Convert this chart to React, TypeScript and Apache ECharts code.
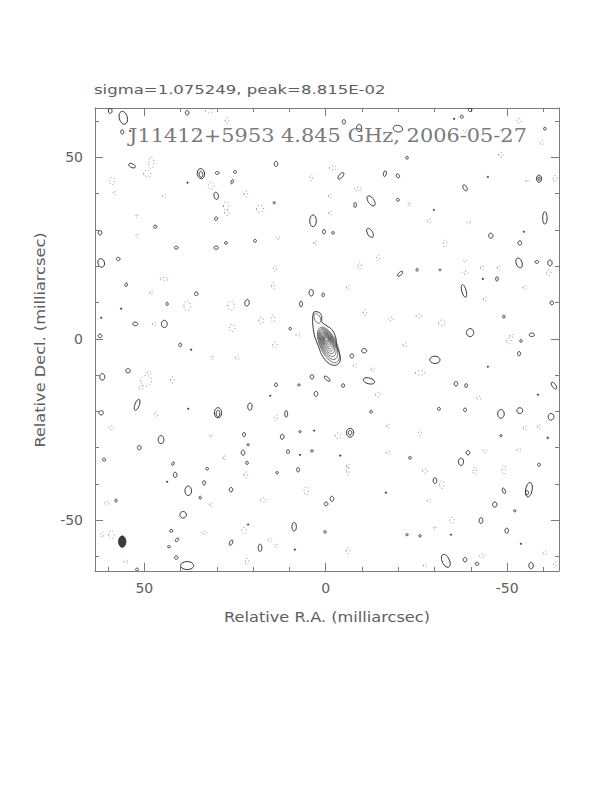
import React, { useEffect, useRef } from 'react';
import * as echarts from 'echarts';

// ---------- axes ----------
const X_MIN = -64.3;
const X_MAX = 63.6;
const Y_MIN = -64.0;
const Y_MAX = 63.6;
const majorTicks = [-50, 0, 50];
const minorTicks = [-60, -50, -40, -30, -20, -10, 0, 10, 20, 30, 40, 50, 60];
const tickLabels = [-50, 0, 50];

// ---------- texts ----------
const statsText = 'sigma=1.075249, peak=8.815E-02';
const titleText = 'J11412+5953 4.845 GHz, 2006-05-27';
const xName = 'Relative R.A. (milliarcsec)';
const yName = 'Relative Decl. (milliarcsec)';

// ---------- positive (solid) noise contours: [RA, Dec, rx, ry, angle] in mas ----------
const posContours: number[][] = [
  [59.4, 62.8, 0.5, 0.7, 0], [55.8, 60.9, 1.1, 1.8, -15], [56.1, 57.0, 0.4, 0.6, -10],
  [38.2, 62.3, 0.5, 0.6, 0], [53.4, 47.7, 1.0, 0.5, 25], [34.4, 45.5, 1.0, 1.4, -10],
  [34.4, 45.3, 0.5, 0.8, -10], [29.9, 45.7, 0.5, 0.4, 0], [25.0, 46.0, 0.4, 0.4, 0],
  [25.8, 43.3, 0.3, 0.6, 20], [30.2, 39.4, 0.6, 1.0, -10], [30.2, 33.1, 0.45, 0.45, 0],
  [47.0, 30.9, 0.45, 0.4, 0], [62.2, 29.2, 0.5, 0.6, 0], [41.2, 25.1, 0.5, 0.4, 0],
  [30.2, 25.1, 0.6, 0.45, 0], [27.5, 26.4, 0.4, 0.35, 0], [61.9, 20.9, 0.9, 1.2, -15],
  [57.2, 22.0, 0.5, 0.45, 0], [55.0, 14.9, 0.35, 0.5, 15], [35.7, 12.4, 0.5, 0.5, 0],
  [43.7, 9.6, 0.3, 0.45, 0], [21.7, 9.9, 0.6, 0.9, 10], [52.5, 4.1, 0.7, 0.5, 0],
  [44.5, 4.1, 0.8, 1.0, 0], [62.2, 0.8, 0.5, 0.5, 0],
  [-5.0, 59.8, 0.45, 0.6, 0], [-9.2, 58.1, 0.7, 1.0, 0], [-19.9, 57.9, 1.3, 0.9, 10],
  [13.7, 48.2, 0.5, 0.7, 0], [-4.2, 44.9, 0.5, 1.1, 40], [-16.3, 45.5, 0.4, 0.8, 10],
  [-19.9, 44.9, 0.4, 0.6, -30], [-12.5, 38.0, 0.8, 1.6, -35], [-8.1, 36.9, 0.35, 0.7, 0],
  [-19.9, 38.3, 0.4, 0.4, 0], [14.2, 37.5, 0.3, 0.3, 0], [3.5, 32.5, 0.9, 1.6, 0],
  [0.5, 29.5, 0.4, 0.6, 0], [-2.0, 29.2, 0.35, 0.35, 0], [-12.2, 29.2, 0.7, 1.4, -30],
  [19.5, 27.0, 0.4, 0.4, 0], [-20.5, 17.9, 0.4, 0.9, 45], [4.0, 12.7, 0.6, 0.9, 0],
  [0.7, 12.1, 0.35, 0.5, 0], [6.8, 9.6, 0.4, 0.8, 0], [9.8, 2.8, 0.35, 0.35, 0],
  [-39.8, 63.1, 0.5, 0.5, 0], [-37.5, 61.2, 0.4, 0.45, 0], [-60.4, 57.9, 0.35, 0.4, 0],
  [-22.4, 49.9, 0.35, 0.4, 0], [-38.4, 41.6, 0.5, 0.9, -30], [-58.8, 44.1, 0.7, 1.0, 0],
  [-58.8, 44.1, 0.3, 0.5, 0], [-60.4, 33.3, 0.6, 1.7, 0], [-45.5, 28.4, 0.6, 0.7, 0],
  [-53.5, 26.4, 0.5, 0.6, 0], [-53.3, 20.9, 0.8, 1.4, -20], [-58.2, 21.2, 0.5, 0.4, 0],
  [-61.8, 20.9, 0.6, 0.8, 0], [-25.2, 19.0, 0.3, 0.4, 0], [-31.5, 19.0, 0.25, 0.25, 0],
  [-47.2, 16.5, 0.35, 0.6, 0], [-38.1, 13.2, 0.6, 1.8, -15], [-62.3, 9.9, 0.5, 0.5, 0],
  [-49.1, 6.1, 0.3, 0.45, 0], [-39.8, 1.7, 1.0, 1.1, 0], [-56.8, 1.1, 0.7, 0.5, 0],
  [40.1, -1.7, 0.4, 0.5, 0], [54.5, -8.8, 0.6, 0.6, 0], [61.6, -10.5, 0.7, 0.9, 0],
  [52.0, -18.2, 0.6, 1.6, 20], [61.9, -20.4, 0.6, 0.6, 0], [29.7, -20.4, 1.0, 1.4, 0],
  [29.7, -20.6, 0.5, 0.9, 0], [20.9, -18.7, 0.6, 1.0, 0], [45.4, -27.8, 0.8, 1.1, 0],
  [51.4, -30.0, 0.5, 0.6, 0], [22.5, -26.4, 0.4, 0.6, 0], [21.4, -29.2, 0.3, 0.3, 0],
  [22.8, -31.4, 0.5, 0.7, 0], [61.1, -33.3, 0.45, 0.4, 0], [42.1, -34.4, 0.3, 0.5, 30],
  [32.7, -35.8, 0.4, 0.35, 0], [21.7, -34.2, 0.35, 0.45, 0], [41.5, -37.5, 0.5, 0.7, 0],
  [33.5, -39.7, 0.4, 0.6, 0], [37.9, -41.9, 0.9, 1.3, 0], [34.6, -43.8, 0.3, 0.4, 0],
  [26.1, -41.6, 0.5, 0.6, 0], [57.8, -44.6, 0.3, 0.4, 0], [39.3, -48.5, 0.9, 0.9, 0],
  [42.6, -52.9, 0.4, 0.4, 0], [41.0, -55.4, 0.35, 0.6, 40], [43.2, -57.3, 0.4, 0.3, 0],
  [26.1, -56.2, 0.4, 0.8, 25], [41.2, -60.3, 0.5, 0.45, 0], [38.2, -62.5, 1.8, 1.1, 0],
  [52.0, -63.6, 0.4, 0.4, 0],
  [-7.2, -4.7, 0.5, 0.6, 0], [-10.6, -3.3, 0.7, 0.6, 0], [-11.9, -11.6, 1.6, 0.8, 15],
  [3.8, -10.5, 0.5, 0.6, 0], [-0.4, -11.0, 0.4, 1.0, -50], [-4.8, -12.9, 0.4, 0.5, 0],
  [13.7, -12.7, 0.4, 0.5, 0], [7.4, -12.7, 0.3, 0.3, 0], [2.7, -15.2, 0.5, 0.7, 0],
  [10.9, -20.7, 0.4, 0.9, 0], [-12.5, -20.1, 0.35, 0.4, 0], [-6.7, -25.9, 1.0, 1.2, 0],
  [-6.7, -25.9, 0.5, 0.6, 0], [7.1, -25.6, 0.3, 0.3, 0], [12.0, -27.0, 0.5, 0.7, 0],
  [10.4, -31.1, 0.4, 0.5, 0], [3.8, -30.9, 0.35, 0.3, 0], [7.6, -36.1, 0.4, 0.6, 0],
  [13.4, -36.9, 0.35, 0.3, 0], [-1.7, -44.1, 0.5, 0.7, 0], [-0.1, -45.5, 0.5, 0.5, 0],
  [8.7, -51.8, 0.6, 1.2, 0], [0.2, -53.2, 0.35, 0.35, 0], [18.1, -57.6, 0.5, 1.0, 0],
  [-30.1, -5.8, 1.4, 1.0, 0], [-53.3, -4.1, 0.4, 0.6, 0], [-53.8, -0.6, 0.3, 0.4, 0],
  [-62.9, -12.9, 0.5, 1.1, -35], [-35.9, -12.4, 0.5, 0.6, 0], [-38.7, -12.9, 0.35, 0.55, 0],
  [-31.2, -19.3, 0.4, 0.4, 0], [-38.4, -19.6, 0.4, 0.5, 0], [-48.3, -20.7, 0.9, 1.2, 0],
  [-53.5, -19.8, 0.8, 0.8, 0], [-62.1, -21.5, 0.8, 0.9, 0], [-48.3, -26.7, 0.3, 0.3, 0],
  [-61.2, -27.3, 0.25, 0.25, 0], [-23.2, -32.8, 0.35, 0.4, 0], [-39.2, -31.4, 0.5, 0.6, 0],
  [-37.3, -33.9, 0.7, 1.0, 0], [-58.8, -34.7, 0.4, 0.4, 0], [-30.1, -39.1, 0.5, 0.8, 0],
  [-49.1, -41.9, 0.4, 0.8, -20], [-56.0, -41.6, 0.9, 2.0, 10], [-55.5, -42.4, 0.4, 0.6, 0],
  [-46.6, -45.7, 0.6, 0.7, 0], [-52.1, -47.4, 0.3, 0.3, 0], [-42.8, -50.1, 0.5, 0.8, 0],
  [-49.9, -52.9, 0.5, 0.7, 0], [-22.4, -54.0, 0.3, 0.3, 0], [-26.0, -54.3, 0.35, 0.3, 0],
  [-33.1, -61.2, 1.0, 1.9, -25], [-38.4, -60.9, 0.5, 0.6, 0], [-41.7, -62.0, 0.5, 0.4, 0],
  [-56.6, -62.5, 0.6, 0.9, 0],
];

// ---------- tiny single-pixel positive islands: [RA, Dec] ----------
const dotContours: number[][] = [
  [53.9, 57.3], [38.1, 43.0], [61.9, 5.8], [-35.4, 60.6], [-29.8, 35.5], [-44.7, 44.6],
  [-54.6, 29.5], [-43.3, 16.5], [37.1, -3.0], [43.7, -39.4], [21.4, -51.2], [37.9, -19.3],
  [7.1, -32.0], [3.2, -25.3], [-4.0, -32.2], [-16.6, -42.4], [8.5, -58.1], [15.3, -15.7],
  [-44.7, -7.7], [-58.5, -15.4], [-53.8, -56.5], [-34.5, -54.0], [56.4, 8.3],
];

// ---------- negative (dotted) contours: [RA, Dec, rx, ry] ----------
const negContours: number[][] = [
  [32.2, 62.8, 1.0, 0.6], [27.2, 60.1, 0.5, 0.8], [34.9, 57.3, 0.5, 0.5], [48.1, 48.5, 0.7, 1.6],
  [49.2, 45.5, 1.0, 1.0], [58.9, 43.5, 0.8, 1.0], [31.6, 42.2, 0.8, 1.0], [27.5, 36.6, 0.7, 1.2],
  [27.2, 34.7, 0.6, 0.7], [52.0, 33.9, 0.3, 0.5], [52.0, 28.4, 0.3, 0.6], [22.0, 39.9, 0.5, 0.8],
  [44.5, 39.4, 0.5, 0.5], [44.5, 16.5, 1.2, 0.4], [48.1, 12.7, 0.4, 0.6], [38.2, 9.1, 0.9, 1.4],
  [26.1, 9.1, 0.9, 1.3], [25.8, 3.0, 0.8, 1.0], [47.3, 4.1, 0.5, 0.5], [58.3, 40.2, 0.3, 0.6],
  [-2.0, 47.1, 1.0, 0.6], [4.0, 44.4, 0.4, 0.8], [-8.9, 41.3, 1.0, 0.5], [18.1, 35.8, 1.0, 1.0],
  [-1.2, 39.4, 0.4, 0.6], [-1.2, 34.7, 0.4, 0.6], [13.1, 27.8, 0.5, 0.4], [2.9, 26.4, 0.4, 0.6],
  [14.0, 19.3, 0.4, 0.8], [14.5, 14.6, 0.4, 0.9], [-9.4, 20.1, 0.5, 0.9], [-14.4, 22.3, 0.4, 0.8],
  [-6.1, 14.1, 0.4, 0.6], [-10.8, 7.2, 0.5, 0.8], [-18.0, 5.5, 0.7, 0.5], [17.8, 5.0, 0.7, 0.9],
  [14.5, 5.5, 0.5, 1.0], [7.6, 1.1, 0.6, 0.4],
  [-53.3, 60.1, 0.6, 0.6], [-38.4, 57.3, 0.5, 0.4], [-48.6, 57.3, 0.4, 0.5], [-48.3, 50.7, 0.6, 0.7],
  [-59.6, 54.0, 0.5, 0.6], [-63.2, 44.1, 0.5, 0.9], [-55.5, 43.5, 0.3, 0.4], [-23.0, 37.2, 0.3, 0.5],
  [-28.5, 32.5, 0.5, 0.6], [-39.5, 32.0, 0.6, 0.3], [-32.9, 26.2, 0.5, 1.0], [-38.4, 21.5, 0.4, 0.4],
  [-38.4, 18.2, 0.8, 0.4], [-43.1, 19.6, 0.4, 0.6], [-47.7, 19.6, 0.4, 0.6], [-61.5, 18.2, 0.6, 0.8],
  [-54.9, 14.1, 0.5, 0.5], [-43.9, 11.0, 0.4, 0.6], [-25.7, 6.3, 0.8, 0.5], [-32.0, 4.4, 0.9, 0.8],
  [-51.3, 0.8, 0.6, 0.4],
  [49.5, -11.6, 1.5, 1.5], [48.7, -9.4, 0.6, 0.5], [50.9, -13.5, 0.6, 0.5], [42.3, -11.3, 0.5, 0.8],
  [24.4, -5.2, 0.5, 0.6], [31.3, -5.2, 0.3, 0.6], [46.8, -20.9, 0.4, 0.8], [59.1, -24.5, 0.7, 0.5],
  [31.6, -26.7, 0.4, 0.4], [28.0, -32.8, 0.3, 0.7], [22.0, -37.5, 0.5, 0.8], [31.6, -45.7, 0.4, 0.6],
  [60.3, -45.2, 0.7, 0.4], [59.1, -54.0, 0.8, 1.1], [61.6, -54.0, 0.4, 0.7], [33.5, -53.4, 0.8, 0.4],
  [22.5, -52.9, 0.6, 0.9], [55.0, -61.4, 0.6, 0.4], [21.7, -61.4, 0.5, 0.9],
  [14.0, -1.7, 0.6, 0.8], [13.7, -21.8, 0.4, 0.8], [-3.4, -26.7, 0.8, 0.8], [-6.1, -36.4, 0.4, 1.2],
  [5.4, -41.9, 0.6, 1.2], [17.3, -44.4, 0.8, 0.6], [-14.4, -15.4, 0.7, 0.7], [-13.0, -8.5, 0.5, 0.5],
  [-8.1, -7.4, 0.5, 0.5], [-17.2, -24.0, 0.4, 0.6], [-17.2, -31.4, 0.6, 0.4], [15.3, -55.4, 0.5, 0.6],
  [13.7, -57.0, 0.4, 0.5], [-6.1, -58.4, 0.5, 0.8], [-6.1, -35.0, 0.4, 0.6],
  [-26.0, -9.4, 1.3, 0.6], [-21.8, -1.7, 0.5, 0.6], [-50.5, -0.6, 0.6, 0.8], [-42.2, -16.3, 0.6, 0.5],
  [-54.9, -24.5, 0.4, 0.6], [-58.8, -24.2, 0.4, 0.6], [-26.0, -25.9, 0.4, 0.8], [-43.9, -30.9, 0.5, 0.4],
  [-53.3, -30.6, 0.6, 0.4], [-27.4, -36.4, 0.7, 0.6], [-32.0, -40.2, 0.6, 1.1], [-41.1, -36.4, 0.5, 0.9],
  [-49.1, -36.1, 0.5, 1.3], [-28.5, -44.6, 0.5, 0.5], [-30.1, -52.1, 0.3, 0.5], [-34.8, -50.1, 0.6, 0.9],
  [-43.1, -59.8, 0.9, 0.5], [-60.4, -59.0, 0.5, 0.6], [-27.4, -62.5, 0.5, 0.5], [-63.2, -62.3, 0.4, 0.8],
];

// ---------- core source ----------
// outermost contour, traced: [RA, Dec]
const sourceOuter: number[][] = [
  [2.9, 7.5], [1.6, 7.1], [1.1, 6.1], [1.1, 4.7], [0.2, 3.9], [-1.7, 2.5], [-2.8, 0.2],
  [-3.0, -2.1], [-3.9, -4.4], [-3.9, -6.3], [-3.0, -7.2], [-1.7, -7.2], [-0.3, -6.3],
  [1.1, -4.4], [2.0, -2.1], [2.9, 0.2], [3.4, 2.5], [3.6, 4.8], [3.4, 7.1],
];
// nested inner contours: [RA, Dec, semi-minor, semi-major, angle]
const sourceLevels: number[][] = [
  [-0.75, -1.7, 2.3, 5.3, -25], [-0.65, -1.45, 2.05, 4.6, -25], [-0.55, -1.2, 1.8, 3.95, -25],
  [-0.48, -1.0, 1.58, 3.35, -25], [-0.42, -0.8, 1.38, 2.8, -25], [-0.36, -0.62, 1.18, 2.3, -25],
  [-0.31, -0.48, 1.0, 1.85, -25], [-0.27, -0.36, 0.82, 1.45, -25], [-0.24, -0.26, 0.64, 1.08, -25],
  [-0.22, -0.18, 0.48, 0.75, -25], [-0.2, -0.12, 0.32, 0.45, -25],
  [2.3, 5.6, 0.8, 1.4, -25],
];

// ---------- restoring beam: [RA, Dec, rx, ry, angle] ----------
const beam: number[][] = [[56.1, -55.9, 1.0, 1.55, 0]];

function ellipsePoints(api: any, cx: number, cy: number, rx: number, ry: number, ang: number, n = 28) {
  const a = (ang * Math.PI) / 180;
  const ca = Math.cos(a);
  const sa = Math.sin(a);
  const pts: number[][] = [];
  for (let k = 0; k < n; k++) {
    const t = (2 * Math.PI * k) / n;
    const ex = rx * Math.cos(t);
    const ey = ry * Math.sin(t);
    pts.push(api.coord([cx + ex * ca - ey * sa, cy + ex * sa + ey * ca]));
  }
  return pts;
}

const AXIS_COLOR = '#7a7a7a';
const TEXT_COLOR = '#5e5e5e';

function makeX(position: 'top' | 'bottom', ticks: number[], len: number, withLabel: boolean, withLine: boolean) {
  return {
    type: 'value',
    position,
    min: X_MIN,
    max: X_MAX,
    inverse: true,
    axisLine: { show: withLine, onZero: false, lineStyle: { color: AXIS_COLOR, width: 1 } },
    axisTick: { show: true, inside: true, length: len, customValues: ticks, lineStyle: { color: AXIS_COLOR, width: 1 } },
    axisLabel: withLabel
      ? { show: true, customValues: tickLabels, margin: 10, fontSize: 14, fontFamily: 'DejaVu Sans', color: TEXT_COLOR }
      : { show: false },
    splitLine: { show: false },
  };
}

function makeY(position: 'left' | 'right', ticks: number[], len: number, withLabel: boolean, withLine: boolean) {
  return {
    type: 'value',
    position,
    min: Y_MIN,
    max: Y_MAX,
    axisLine: { show: withLine, onZero: false, lineStyle: { color: AXIS_COLOR, width: 1 } },
    axisTick: { show: true, inside: true, length: len, customValues: ticks, lineStyle: { color: AXIS_COLOR, width: 1 } },
    axisLabel: withLabel
      ? { show: true, customValues: tickLabels, margin: 12, fontSize: 14, fontFamily: 'DejaVu Sans', color: TEXT_COLOR }
      : { show: false },
    splitLine: { show: false },
  };
}

export default function App() {
  const ref = useRef<HTMLDivElement>(null);
  useEffect(() => {
    if (!ref.current) return;
    const chart = echarts.init(ref.current, null, { renderer: 'svg' });
    const base = { type: 'custom', coordinateSystem: 'cartesian2d', xAxisIndex: 0, yAxisIndex: 0, clip: true, silent: true };
    const option: any = {
      animation: false,
      backgroundColor: '#ffffff',
      grid: { left: 95, top: 108, width: 464, height: 463, show: false },
      xAxis: [
        makeX('bottom', majorTicks, 8, true, true),
        makeX('bottom', minorTicks, 4, false, false),
        makeX('top', majorTicks, 8, false, true),
        makeX('top', minorTicks, 4, false, false),
      ],
      yAxis: [
        makeY('left', majorTicks, 8, true, true),
        makeY('left', minorTicks, 4, false, false),
        makeY('right', majorTicks, 8, false, true),
        makeY('right', minorTicks, 4, false, false),
      ],
      series: [
        {
          ...base,
          name: 'negative',
          data: negContours,
          renderItem: (_p: any, api: any) => ({
            type: 'polygon',
            shape: { points: ellipsePoints(api, api.value(0), api.value(1), api.value(2), api.value(3), 0, 20) },
            style: { fill: 'none', stroke: '#8a8a8a', lineWidth: 1, lineDash: [1, 2.5] },
          }),
        },
        {
          ...base,
          name: 'positive',
          data: posContours,
          renderItem: (_p: any, api: any) => ({
            type: 'polygon',
            shape: { points: ellipsePoints(api, api.value(0), api.value(1), api.value(2), api.value(3), api.value(4)) },
            style: { fill: 'none', stroke: '#2e2e2e', lineWidth: 1 },
          }),
        },
        {
          ...base,
          name: 'dots',
          data: dotContours,
          renderItem: (_p: any, api: any) => ({
            type: 'polygon',
            shape: { points: ellipsePoints(api, api.value(0), api.value(1), 0.22, 0.22, 0, 8) },
            style: { fill: '#2e2e2e', stroke: '#2e2e2e', lineWidth: 0.5 },
          }),
        },
        {
          ...base,
          name: 'sourceOuter',
          data: [[0, 0]],
          renderItem: (_p: any, api: any) => ({
            type: 'polygon',
            shape: { points: sourceOuter.map((p) => api.coord(p)), smooth: 0.4 },
            style: { fill: 'none', stroke: '#333333', lineWidth: 1 },
          }),
        },
        {
          ...base,
          name: 'sourceLevels',
          data: sourceLevels,
          renderItem: (_p: any, api: any) => ({
            type: 'polygon',
            shape: { points: ellipsePoints(api, api.value(0), api.value(1), api.value(2), api.value(3), api.value(4), 36) },
            style: { fill: 'none', stroke: '#444444', lineWidth: 0.75 },
          }),
        },
        {
          ...base,
          name: 'beam',
          data: beam,
          renderItem: (_p: any, api: any) => ({
            type: 'polygon',
            shape: { points: ellipsePoints(api, api.value(0), api.value(1), api.value(2), api.value(3), api.value(4), 36) },
            style: { fill: '#3c3c3c', stroke: '#2e2e2e', lineWidth: 1 },
          }),
        },
      ],
      graphic: [
        {
          type: 'text',
          x: 94,
          y: 90,
          scaleX: 1.27,
          silent: true,
          style: {
            text: statsText,
            fontSize: 13,
            fontFamily: 'DejaVu Sans',
            fill: TEXT_COLOR,
            textAlign: 'left',
            textVerticalAlign: 'middle',
            align: 'left',
            verticalAlign: 'middle',
          },
        },
        {
          type: 'text',
          x: 328,
          y: 136,
          scaleX: 1.16,
          silent: true,
          z: 10,
          style: {
            text: titleText,
            fontSize: 18,
            fontFamily: 'DejaVu Serif',
            fill: '#7a7a7a',
            textAlign: 'center',
            textVerticalAlign: 'middle',
            align: 'center',
            verticalAlign: 'middle',
          },
        },
        {
          type: 'text',
          x: 327,
          y: 617,
          scaleX: 1.156,
          silent: true,
          style: {
            text: xName,
            fontSize: 14,
            fontFamily: 'DejaVu Sans',
            fill: TEXT_COLOR,
            textAlign: 'center',
            textVerticalAlign: 'middle',
            align: 'center',
            verticalAlign: 'middle',
          },
        },
        {
          type: 'text',
          x: 40,
          y: 340,
          rotation: Math.PI / 2,
          scaleX: 1.156,
          silent: true,
          style: {
            text: yName,
            fontSize: 14,
            fontFamily: 'DejaVu Sans',
            fill: TEXT_COLOR,
            textAlign: 'center',
            textVerticalAlign: 'middle',
            align: 'center',
            verticalAlign: 'middle',
          },
        },
      ],
    };
    chart.setOption(option);
    return () => chart.dispose();
  }, []);
  return <div ref={ref} style={{ position: 'absolute', left: 0, top: 0, width: 612, height: 792 }} />;
}
